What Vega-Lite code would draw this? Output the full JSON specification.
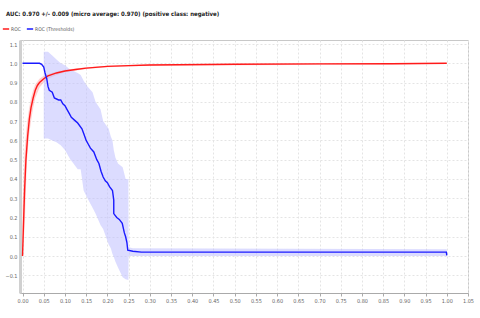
{
  "$schema": "https://vega.github.io/schema/vega-lite/v6.json",
  "width": 448,
  "height": 253,
  "autosize": "none",
  "padding": {"left": 20, "top": 40, "right": 12, "bottom": 25},
  "background": "white",
  "config": {
    "view": {"stroke": "#c8c8c8", "strokeWidth": 1},
    "font": "DejaVu Sans Condensed, Liberation Sans, sans-serif",
    "axis": {"labelOverlap": false, "labelBound": false, "labelFlush": false},
    "axisQuantitative": {"labelOverlap": false}
  },
  "title": {
    "text": "AUC: 0.970 +/- 0.009 (micro average: 0.970) (positive class: negative)",
    "anchor": "start",
    "frame": "group",
    "fontSize": 6,
    "fontWeight": "bold",
    "color": "#222",
    "font": "DejaVu Sans Condensed, Liberation Sans, sans-serif",
    "dx": -14,
    "dy": -4
  },
  "datasets": {
    "redband": [
      {"x": 0, "y": 0, "hi": 0.25},
      {"x": 0.005, "y": 0.15, "hi": 0.55},
      {"x": 0.01, "y": 0.48, "hi": 0.68},
      {"x": 0.015, "y": 0.62, "hi": 0.76},
      {"x": 0.02, "y": 0.7, "hi": 0.82},
      {"x": 0.025, "y": 0.77, "hi": 0.86},
      {"x": 0.03, "y": 0.82, "hi": 0.89},
      {"x": 0.04, "y": 0.875, "hi": 0.92},
      {"x": 0.05, "y": 0.9, "hi": 0.935},
      {"x": 0.06, "y": 0.92, "hi": 0.945},
      {"x": 0.08, "y": 0.94, "hi": 0.958},
      {"x": 0.1, "y": 0.953, "hi": 0.966},
      {"x": 0.15, "y": 0.97, "hi": 0.98},
      {"x": 0.2, "y": 0.98, "hi": 0.988},
      {"x": 0.3, "y": 0.988, "hi": 0.995},
      {"x": 0.87, "y": 0.994, "hi": 1.0},
      {"x": 1.0, "y": 0.998, "hi": 1.0}
    ],
    "blueband": [
      {"x": 0.05, "y": 0.61, "hi": 1.06},
      {"x": 0.06, "y": 0.61, "hi": 1.06},
      {"x": 0.07, "y": 0.6, "hi": 1.04},
      {"x": 0.08, "y": 0.59, "hi": 1.02},
      {"x": 0.09, "y": 0.575, "hi": 1.0},
      {"x": 0.1, "y": 0.55, "hi": 0.99},
      {"x": 0.113, "y": 0.5, "hi": 0.965},
      {"x": 0.12, "y": 0.48, "hi": 0.96},
      {"x": 0.13, "y": 0.45, "hi": 0.95},
      {"x": 0.137, "y": 0.45, "hi": 0.94},
      {"x": 0.144, "y": 0.34, "hi": 0.91},
      {"x": 0.153, "y": 0.3, "hi": 0.88},
      {"x": 0.165, "y": 0.25, "hi": 0.85},
      {"x": 0.172, "y": 0.22, "hi": 0.8},
      {"x": 0.184, "y": 0.16, "hi": 0.76},
      {"x": 0.19, "y": 0.14, "hi": 0.7},
      {"x": 0.203, "y": 0.06, "hi": 0.66},
      {"x": 0.208, "y": 0.04, "hi": 0.62},
      {"x": 0.212, "y": 0.01, "hi": 0.6},
      {"x": 0.215, "y": -0.005, "hi": 0.55},
      {"x": 0.219, "y": -0.03, "hi": 0.51},
      {"x": 0.225, "y": -0.06, "hi": 0.48},
      {"x": 0.236, "y": -0.11, "hi": 0.46},
      {"x": 0.243, "y": -0.12, "hi": 0.4},
      {"x": 0.2495, "y": -0.125, "hi": 0.4},
      {"x": 0.25, "y": 0.0, "hi": 0.045},
      {"x": 0.26, "y": 0.0, "hi": 0.04},
      {"x": 1.0, "y": 0.0, "hi": 0.035}
    ],
    "lines": [
      {"i": 0, "series": "ROC", "x": 0, "y": 0},
      {"i": 1, "series": "ROC", "x": 0.002, "y": 0.15},
      {"i": 2, "series": "ROC", "x": 0.005, "y": 0.35},
      {"i": 3, "series": "ROC", "x": 0.008, "y": 0.5},
      {"i": 4, "series": "ROC", "x": 0.012, "y": 0.62},
      {"i": 5, "series": "ROC", "x": 0.016, "y": 0.71},
      {"i": 6, "series": "ROC", "x": 0.02, "y": 0.77},
      {"i": 7, "series": "ROC", "x": 0.025, "y": 0.82},
      {"i": 8, "series": "ROC", "x": 0.03, "y": 0.86},
      {"i": 9, "series": "ROC", "x": 0.035, "y": 0.885},
      {"i": 10, "series": "ROC", "x": 0.04, "y": 0.9},
      {"i": 11, "series": "ROC", "x": 0.05, "y": 0.92},
      {"i": 12, "series": "ROC", "x": 0.06, "y": 0.935},
      {"i": 13, "series": "ROC", "x": 0.08, "y": 0.95},
      {"i": 14, "series": "ROC", "x": 0.1, "y": 0.96},
      {"i": 15, "series": "ROC", "x": 0.125, "y": 0.968},
      {"i": 16, "series": "ROC", "x": 0.15, "y": 0.975},
      {"i": 17, "series": "ROC", "x": 0.2, "y": 0.984},
      {"i": 18, "series": "ROC", "x": 0.25, "y": 0.988},
      {"i": 19, "series": "ROC", "x": 0.3, "y": 0.991},
      {"i": 20, "series": "ROC", "x": 0.5, "y": 0.995},
      {"i": 21, "series": "ROC", "x": 0.7, "y": 0.997},
      {"i": 22, "series": "ROC", "x": 0.87, "y": 0.998},
      {"i": 23, "series": "ROC", "x": 1.0, "y": 1.0},
      {"i": 0, "series": "ROC (Thresholds)", "x": 0, "y": 1.0},
      {"i": 1, "series": "ROC (Thresholds)", "x": 0.04, "y": 1.0},
      {"i": 2, "series": "ROC (Thresholds)", "x": 0.045, "y": 0.995},
      {"i": 3, "series": "ROC (Thresholds)", "x": 0.05, "y": 0.98},
      {"i": 4, "series": "ROC (Thresholds)", "x": 0.053, "y": 0.95},
      {"i": 5, "series": "ROC (Thresholds)", "x": 0.057, "y": 0.92},
      {"i": 6, "series": "ROC (Thresholds)", "x": 0.06, "y": 0.88},
      {"i": 7, "series": "ROC (Thresholds)", "x": 0.063, "y": 0.86},
      {"i": 8, "series": "ROC (Thresholds)", "x": 0.07, "y": 0.85},
      {"i": 9, "series": "ROC (Thresholds)", "x": 0.075, "y": 0.82},
      {"i": 10, "series": "ROC (Thresholds)", "x": 0.085, "y": 0.81},
      {"i": 11, "series": "ROC (Thresholds)", "x": 0.09, "y": 0.81},
      {"i": 12, "series": "ROC (Thresholds)", "x": 0.095, "y": 0.79},
      {"i": 13, "series": "ROC (Thresholds)", "x": 0.1, "y": 0.78},
      {"i": 14, "series": "ROC (Thresholds)", "x": 0.105, "y": 0.76},
      {"i": 15, "series": "ROC (Thresholds)", "x": 0.11, "y": 0.74},
      {"i": 16, "series": "ROC (Thresholds)", "x": 0.115, "y": 0.72},
      {"i": 17, "series": "ROC (Thresholds)", "x": 0.125, "y": 0.7},
      {"i": 18, "series": "ROC (Thresholds)", "x": 0.13, "y": 0.69},
      {"i": 19, "series": "ROC (Thresholds)", "x": 0.14, "y": 0.66},
      {"i": 20, "series": "ROC (Thresholds)", "x": 0.145, "y": 0.63},
      {"i": 21, "series": "ROC (Thresholds)", "x": 0.15, "y": 0.6},
      {"i": 22, "series": "ROC (Thresholds)", "x": 0.155, "y": 0.58},
      {"i": 23, "series": "ROC (Thresholds)", "x": 0.16, "y": 0.56},
      {"i": 24, "series": "ROC (Thresholds)", "x": 0.168, "y": 0.54},
      {"i": 25, "series": "ROC (Thresholds)", "x": 0.175, "y": 0.5},
      {"i": 26, "series": "ROC (Thresholds)", "x": 0.18, "y": 0.48},
      {"i": 27, "series": "ROC (Thresholds)", "x": 0.185, "y": 0.44},
      {"i": 28, "series": "ROC (Thresholds)", "x": 0.19, "y": 0.41},
      {"i": 29, "series": "ROC (Thresholds)", "x": 0.195, "y": 0.39},
      {"i": 30, "series": "ROC (Thresholds)", "x": 0.2, "y": 0.38},
      {"i": 31, "series": "ROC (Thresholds)", "x": 0.205, "y": 0.36},
      {"i": 32, "series": "ROC (Thresholds)", "x": 0.212, "y": 0.34},
      {"i": 33, "series": "ROC (Thresholds)", "x": 0.215, "y": 0.29},
      {"i": 34, "series": "ROC (Thresholds)", "x": 0.215, "y": 0.22},
      {"i": 35, "series": "ROC (Thresholds)", "x": 0.222, "y": 0.2},
      {"i": 36, "series": "ROC (Thresholds)", "x": 0.228, "y": 0.19},
      {"i": 37, "series": "ROC (Thresholds)", "x": 0.235, "y": 0.17},
      {"i": 38, "series": "ROC (Thresholds)", "x": 0.24, "y": 0.12},
      {"i": 39, "series": "ROC (Thresholds)", "x": 0.243, "y": 0.1},
      {"i": 40, "series": "ROC (Thresholds)", "x": 0.246, "y": 0.07},
      {"i": 41, "series": "ROC (Thresholds)", "x": 0.248, "y": 0.03},
      {"i": 42, "series": "ROC (Thresholds)", "x": 0.26, "y": 0.025},
      {"i": 43, "series": "ROC (Thresholds)", "x": 0.28, "y": 0.02},
      {"i": 44, "series": "ROC (Thresholds)", "x": 0.999, "y": 0.02},
      {"i": 45, "series": "ROC (Thresholds)", "x": 1.0, "y": 0.003}
    ]
  },
  "encoding": {
    "x": {
      "field": "x", "type": "quantitative",
      "scale": {"domain": [-0.006, 1.05], "nice": false, "zero": false},
      "axis": {
        "title": null,
        "values": [0, 0.05, 0.1, 0.15, 0.2, 0.25, 0.3, 0.35, 0.4, 0.45, 0.5, 0.55, 0.6, 0.65, 0.7, 0.75, 0.8, 0.85, 0.9, 0.95, 1.0, 1.05],
        "format": ".2f",
        "labelOverlap": false,
        "labelFontSize": 5.5,
        "labelColor": "#666",
        "labelPadding": 2,
        "tickSize": 3,
        "tickColor": "#aaa",
        "domainColor": "#aaa",
        "gridColor": "#e4e4e4",
        "gridDash": [2, 2]
      }
    },
    "y": {
      "field": "y", "type": "quantitative",
      "scale": {"domain": [-0.192, 1.121], "nice": false, "zero": false},
      "axis": {
        "title": null,
        "values": [-0.1, 0, 0.1, 0.2, 0.3, 0.4, 0.5, 0.6, 0.7, 0.8, 0.9, 1.0, 1.1],
        "format": ".1f",
        "labelOverlap": false,
        "labelFontSize": 5.5,
        "labelColor": "#666",
        "labelPadding": 3,
        "ticks": false,
        "domainColor": "#d0d0d0",
        "domainWidth": 3,
        "gridColor": "#e4e4e4",
        "gridDash": [2, 2]
      }
    }
  },
  "layer": [
    {
      "data": {"name": "redband"},
      "mark": {"type": "area", "color": "#ff9c9c", "opacity": 0.45},
      "encoding": {"y2": {"field": "hi"}}
    },
    {
      "data": {"name": "blueband"},
      "mark": {"type": "area", "color": "#c0c0ff", "opacity": 0.55},
      "encoding": {"y2": {"field": "hi"}}
    },
    {
      "data": {"name": "lines"},
      "mark": {"type": "line", "strokeWidth": 1.4, "interpolate": "linear"},
      "encoding": {
        "color": {
          "field": "series", "type": "nominal",
          "scale": {"domain": ["ROC", "ROC (Thresholds)"], "range": ["#ff1a1a", "#1a1aff"]},
          "legend": {
            "title": null,
            "orient": "none",
            "legendX": -18,
            "legendY": -15,
            "direction": "horizontal",
            "symbolType": "stroke",
            "symbolSize": 40,
            "symbolStrokeWidth": 1.5,
            "labelFontSize": 5,
            "labelColor": "#555",
            "columnPadding": 2,
            "labelOffset": 1
          }
        },
        "order": {"field": "i", "type": "quantitative"}
      }
    }
  ]
}
